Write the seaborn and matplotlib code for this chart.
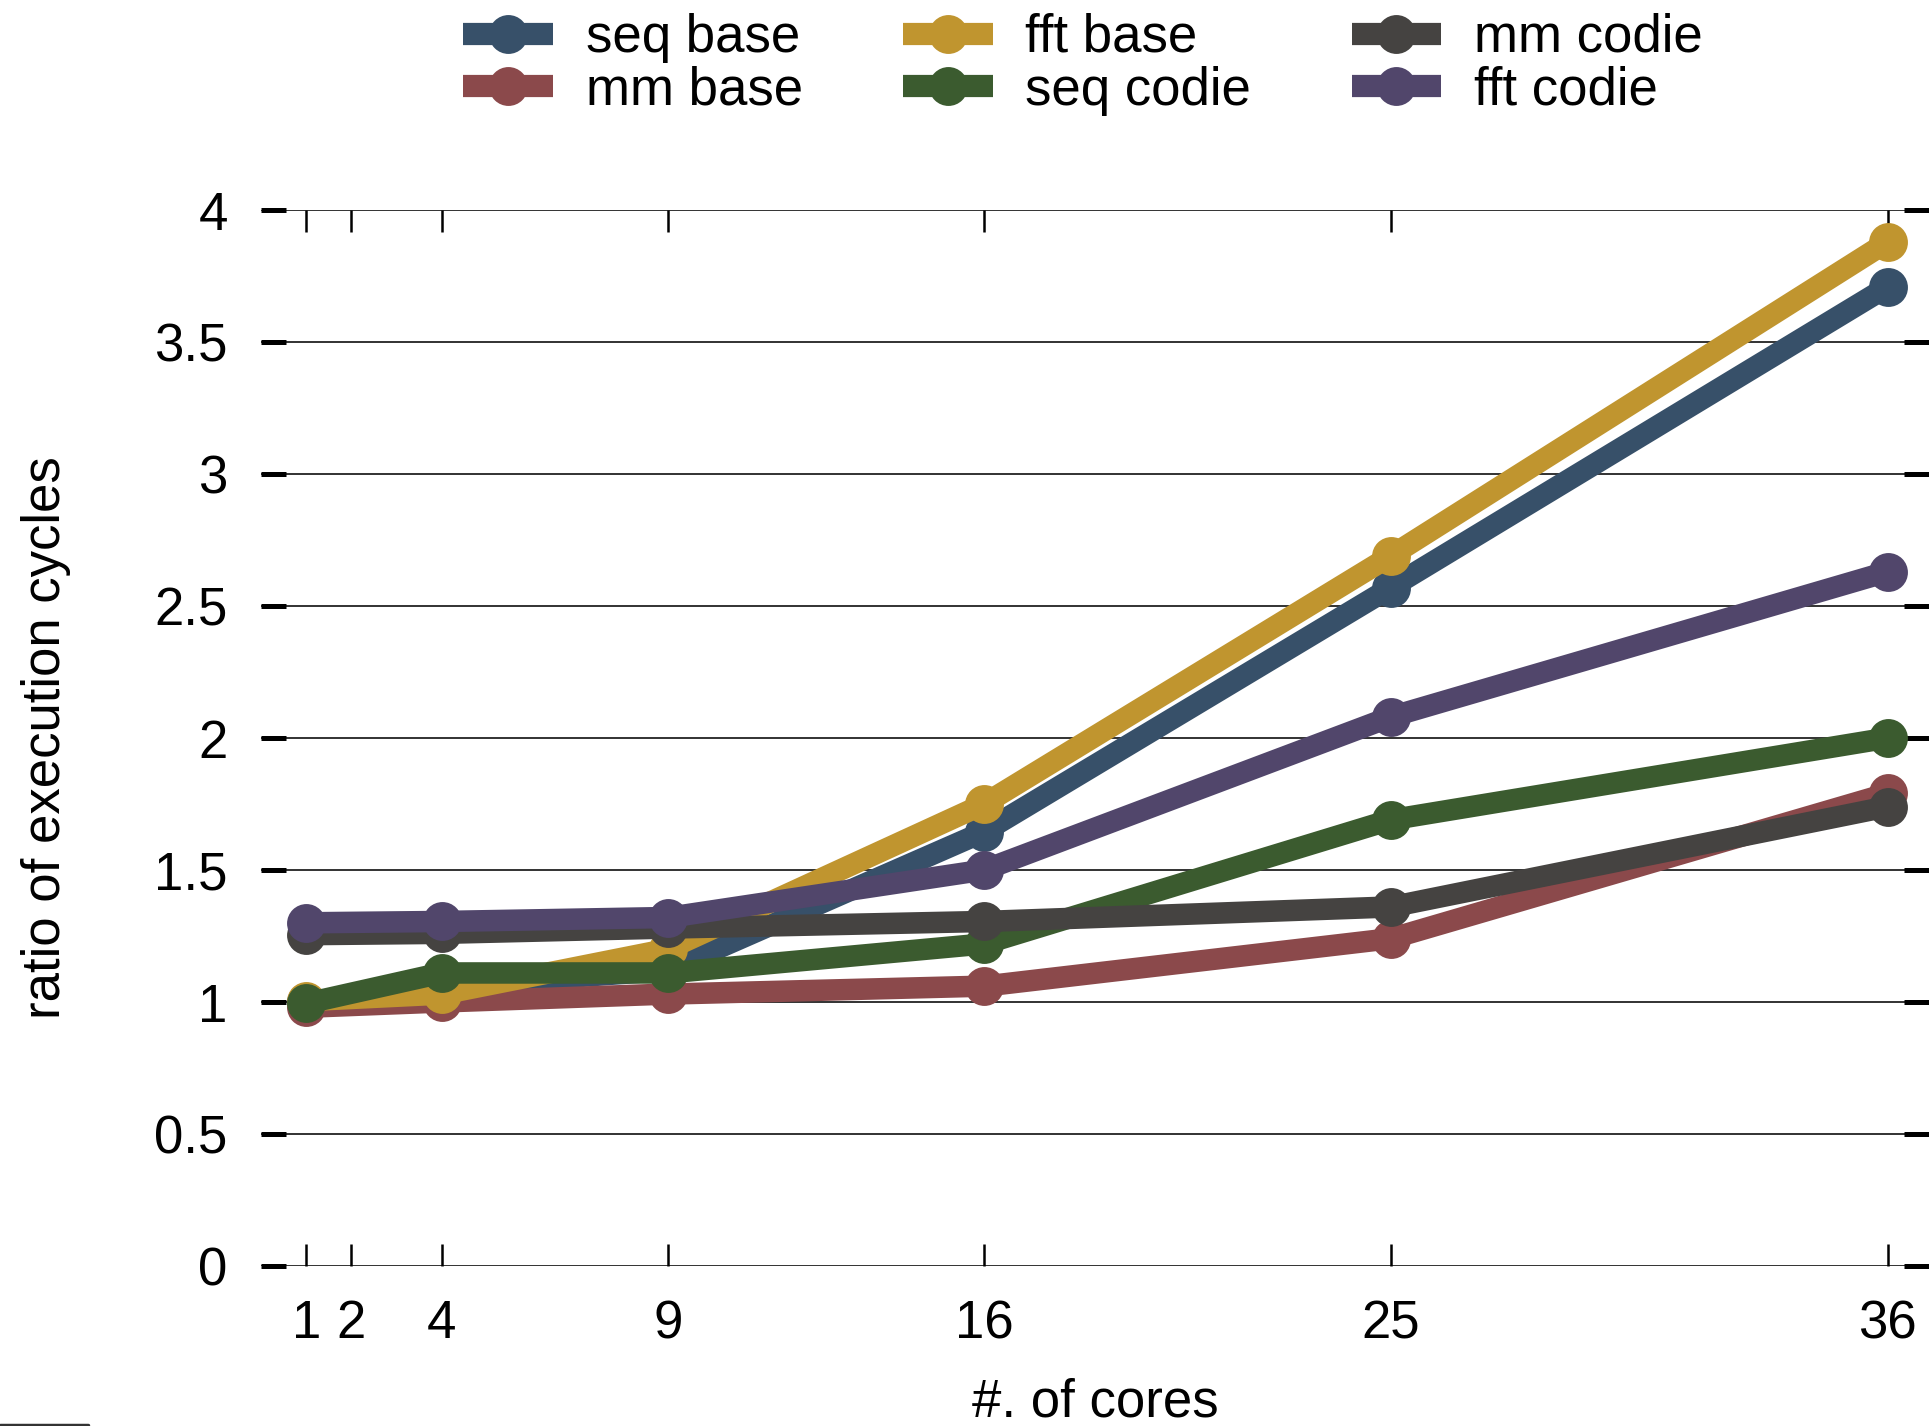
import pandas as pd
import seaborn as sns
import matplotlib.pyplot as plt
from matplotlib.lines import Line2D

cores = [1, 4, 9, 16, 25, 36]
seq_base = [1.00, 1.06, 1.12, 1.645, 2.57, 3.71]
mm_base = [0.98, 1.00, 1.03, 1.06, 1.24, 1.79]
fft_base = [1.005, 1.03, 1.20, 1.75, 2.69, 3.88]
seq_codie = [0.995, 1.11, 1.11, 1.22, 1.69, 2.00]
mm_codie = [1.255, 1.26, 1.28, 1.305, 1.36, 1.74]
fft_codie = [1.30, 1.305, 1.32, 1.50, 2.08, 2.63]

names = ['seq base', 'mm base', 'fft base', 'seq codie', 'mm codie', 'fft codie']
colors = ['#375069', '#8b494b', '#c0952f', '#3b5b2f', '#454341', '#51466b']
xticks = [1, 2, 4, 9, 16, 25, 36]
yticks = [0, 0.5, 1, 1.5, 2, 2.5, 3, 3.5, 4]
ylabels = ['0', '0.5', '1', '1.5', '2', '2.5', '3', '3.5', '4']

rows = []
for name, vals in zip(names, [seq_base, mm_base, fft_base, seq_codie, mm_codie, fft_codie]):
    for c, v in zip(cores, vals):
        rows.append({'cores': c, 'ratio': v, 'config': name})
df = pd.DataFrame(rows)

sns.set_style('white')
plt.rcParams['font.family'] = ['Liberation Sans', 'DejaVu Sans']
plt.rcParams['text.color'] = 'black'
plt.rcParams['axes.labelcolor'] = 'black'
plt.rcParams['xtick.color'] = 'black'
plt.rcParams['ytick.color'] = 'black'

fig = plt.figure(figsize=(19.29, 14.26), dpi=100)
ax = fig.add_axes([261 / 1929, 160 / 1426, 1668 / 1929, 1056 / 1426])

sns.lineplot(data=df, x='cores', y='ratio', hue='config', hue_order=names,
             palette=colors, marker='o', markersize=28, markeredgewidth=0,
             linewidth=15.5, errorbar=None, legend=False, ax=ax)
for ln in ax.get_lines():
    ln.set_clip_on(False)

ax.set_xlim(0, 1668 / 45.19)
ax.set_ylim(0, 4)
ax.set_xticks(xticks)
ax.set_xticklabels([str(t) for t in xticks])
ax.set_yticks(yticks)
ax.set_yticklabels(ylabels)
for s in ax.spines.values():
    s.set_visible(False)
ax.grid(False)
for y in yticks:
    ax.axhline(y, color='#222222', lw=1.3, zorder=0)

ax.tick_params(axis='y', direction='in', left=True, right=True, length=18,
               width=3.6, labelsize=38, pad=24)
ax.tick_params(axis='x', direction='in', bottom=True, top=True, length=16,
               width=1.8, labelsize=38, pad=24)
ax.set_xlabel('#. of cores', fontsize=38, labelpad=20)
ax.set_ylabel('ratio of execution cycles', fontsize=38, labelpad=60)

leg = ax.legend(handles=ax.get_lines()[:6], labels=names, ncol=3,
                loc='upper center', bbox_to_anchor=(1083 / 1929, 1 - 13 / 1426),
                bbox_transform=fig.transFigure, frameon=False, fontsize=38,
                handlelength=1.7, handletextpad=0.62, columnspacing=1.9,
                labelspacing=0.05, borderpad=0, borderaxespad=0)
for ln in leg.get_lines():
    ln.set_linewidth(16)
    ln.set_solid_capstyle('butt')

fig.add_artist(Line2D([0, 88 / 1929], [1.5 / 1426, 1.5 / 1426], color='#333333',
                      lw=2.5, transform=fig.transFigure))

fig.savefig('out.png', dpi=100)
